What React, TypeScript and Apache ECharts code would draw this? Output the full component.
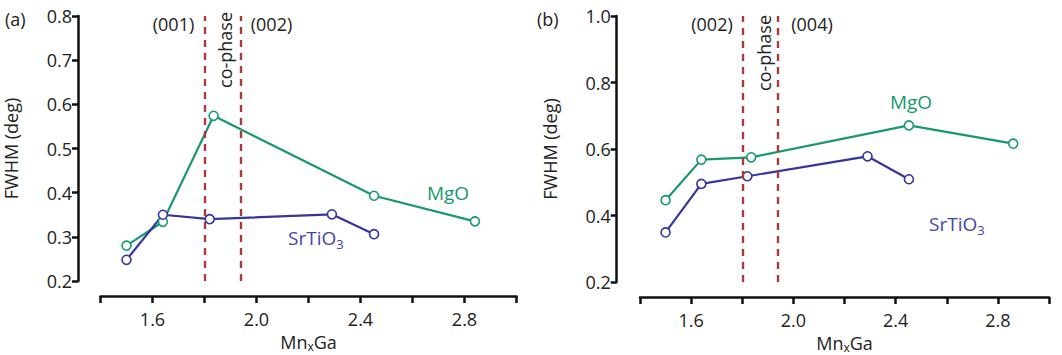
import { useEffect, useRef } from "react";
import * as echarts from "echarts";

// Composition (x in MnxGa) and FWHM values for each substrate
const mgoXA = [1.5, 1.64, 1.835, 2.452, 2.84];
const mgoYA = [0.28, 0.334, 0.574, 0.393, 0.335];
const stoXA = [1.5, 1.64, 1.82, 2.29, 2.452];
const stoYA = [0.248, 0.35, 0.34, 0.351, 0.306];

const mgoXB = [1.5, 1.64, 1.835, 2.452, 2.86];
const mgoYB = [0.446, 0.568, 0.575, 0.671, 0.616];
const stoXB = [1.5, 1.64, 1.82, 2.29, 2.452];
const stoYB = [0.349, 0.495, 0.518, 0.578, 0.509];

// Boundaries of the co-phase region
const phaseBounds = [1.8, 1.94];
const phaseLabelsA = ["(001)", "(002)"];
const phaseLabelsB = ["(002)", "(004)"];

// Tick labels shown on the composition axes
const xTickLabels = ["1.6", "2.0", "2.4", "2.8"];

const GREEN = "#17996c";
const BLUE = "#35359e";
const DASH = "#aa3a3c";
const INK = "#222";
const FONT = "Open Sans";

const pairs = (xs: number[], ys: number[]) => xs.map((x, i) => [x, ys[i]]);

export default function App() {
  const ref = useRef<HTMLDivElement>(null);

  useEffect(() => {
    if (!ref.current) return;
    const chart = echarts.init(ref.current, null, { renderer: "svg" });

    const xAxisBase = (gridIndex: number) => ({
      type: "value" as const,
      gridIndex,
      min: 1.4,
      max: 3.0,
      interval: 0.2,
      offset: 15,
      position: "bottom" as const,
      axisLine: { show: true, onZero: false, lineStyle: { color: "#111", width: 2.5 } },
      axisTick: { show: true, length: 7, lineStyle: { color: "#111", width: 2.5 } },
      splitLine: { show: false },
      axisLabel: {
        color: INK,
        fontSize: 18,
        fontFamily: FONT,
        margin: 14,
        formatter: (v: number) => {
          const s = v.toFixed(1);
          return xTickLabels.includes(s) ? s : "";
        },
      },
      name: "{a|Mn}{s|x}{a|Ga}",
      nameLocation: "middle" as const,
      nameGap: 32,
      nameTextStyle: {
        rich: {
          a: { fontSize: 18, fontFamily: FONT, color: INK, lineHeight: 22 },
          s: { fontSize: 12, fontFamily: FONT, color: INK, lineHeight: 13, verticalAlign: "bottom" },
        },
      },
    });

    const yAxisBase = (gridIndex: number, max: number, interval: number, offset: number) => ({
      type: "value" as const,
      gridIndex,
      min: 0.2,
      max,
      interval,
      offset,
      axisLine: { show: true, onZero: false, lineStyle: { color: "#111", width: 2.5 } },
      axisTick: { show: true, length: 6, lineStyle: { color: "#111", width: 2.5 } },
      splitLine: { show: false },
      axisLabel: {
        color: INK,
        fontSize: 18,
        fontFamily: FONT,
        margin: 6,
        formatter: (v: number) => v.toFixed(1),
      },
      name: "FWHM (deg)",
      nameLocation: "middle" as const,
      nameGap: 58,
      nameTextStyle: { fontSize: 18, fontFamily: FONT, color: INK },
    });

    const lineSeries = (
      name: string,
      data: number[][],
      color: string,
      idx: number,
      withPhase: boolean
    ) => ({
      type: "line" as const,
      name,
      xAxisIndex: idx,
      yAxisIndex: idx,
      data,
      symbol: "circle",
      symbolSize: 9,
      lineStyle: { color, width: 2.2 },
      itemStyle: { color: "#fff", borderColor: color, borderWidth: 1.6 },
      z: 3,
      markLine: withPhase
        ? {
            silent: true,
            symbol: "none",
            label: { show: false },
            lineStyle: { color: DASH, width: 2.4, type: [7, 6] },
            data: phaseBounds.map((v) => ({ xAxis: v })),
          }
        : undefined,
    });

    const txt = (
      text: string,
      x: number,
      y: number,
      opts: Record<string, any> = {}
    ) => ({
      type: "text" as const,
      x,
      y,
      rotation: opts.rotation || 0,
      style: {
        text,
        fill: opts.fill || INK,
        fontSize: opts.fontSize || 18,
        fontFamily: FONT,
        align: opts.align || "center",
        verticalAlign: "middle",
        rich: opts.rich,
      },
    });

    const subRich = (color: string) => ({
      a: { fontSize: 19, fontFamily: FONT, fill: color, color, lineHeight: 24 },
      s: { fontSize: 13, fontFamily: FONT, fill: color, color, lineHeight: 14, verticalAlign: "bottom" },
    });

    chart.setOption({
      animation: false,
      backgroundColor: "#fff",
      grid: [
        { left: 100.5, top: 16, width: 416, height: 265, outerBoundsMode: "none", containLabel: false },
        { left: 640, top: 16, width: 409, height: 266, outerBoundsMode: "none", containLabel: false },
      ],
      xAxis: [xAxisBase(0), xAxisBase(1)],
      yAxis: [yAxisBase(0, 0.8, 0.1, 22.5), yAxisBase(1, 1.0, 0.2, 23.3)],
      series: [
        lineSeries("MgO", pairs(mgoXA, mgoYA), GREEN, 0, true),
        lineSeries("SrTiO3", pairs(stoXA, stoYA), BLUE, 0, false),
        lineSeries("MgO", pairs(mgoXB, mgoYB), GREEN, 1, true),
        lineSeries("SrTiO3", pairs(stoXB, stoYB), BLUE, 1, false),
      ],
      graphic: [
        txt("(a)", 5, 19, { align: "left" }),
        txt("(b)", 537, 19, { align: "left" }),
        txt(phaseLabelsA[0], 173.5, 24),
        txt(phaseLabelsA[1], 271.5, 24),
        txt(phaseLabelsB[0], 712, 24),
        txt(phaseLabelsB[1], 812, 24),
        txt("co-phase", 225, 50, { rotation: Math.PI / 2 }),
        txt("co-phase", 764, 53, { rotation: Math.PI / 2 }),
        txt("MgO", 448, 193, { fill: GREEN, fontSize: 19 }),
        txt("MgO", 911, 102, { fill: GREEN, fontSize: 19 }),
        txt("{a|SrTiO}{s|3}", 288, 238, { align: "left", fill: BLUE, rich: subRich("#4444ad") }),
        txt("{a|SrTiO}{s|3}", 929, 224, { align: "left", fill: BLUE, rich: subRich("#4444ad") }),
      ],
    });

    return () => chart.dispose();
  }, []);

  return (
    <div
      ref={ref}
      style={{ position: "fixed", left: 0, top: 0, width: 1062, height: 355, background: "#fff" }}
    />
  );
}
